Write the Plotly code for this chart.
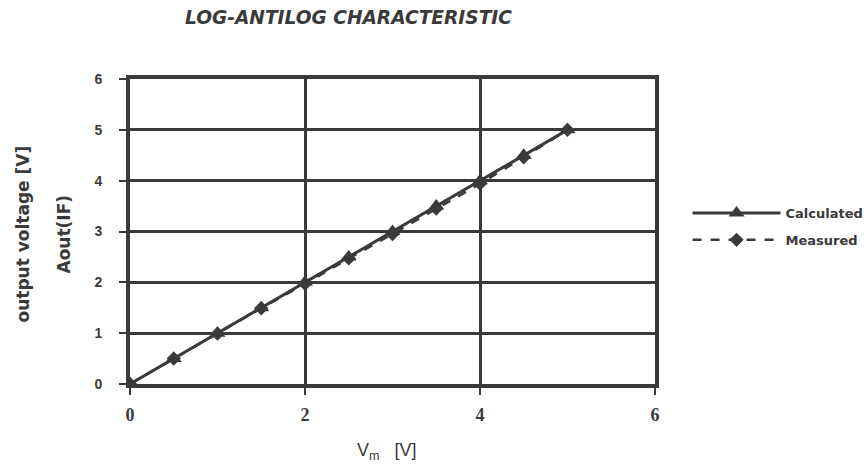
import plotly.graph_objects as go

# Input voltage V_m [V]
vin = [0, 0.5, 1.0, 1.5, 2.0, 2.5, 3.0, 3.5, 4.0, 4.5, 5.0]
# Output voltage Aout(IF) [V]
calculated = [0, 0.5, 1.0, 1.5, 2.0, 2.5, 3.0, 3.5, 4.0, 4.5, 5.0]
measured = [0, 0.5, 0.99, 1.49, 1.97, 2.47, 2.95, 3.45, 3.94, 4.46, 5.0]

x_ticks = [0, 2, 4, 6]
y_ticks = [0, 1, 2, 3, 4, 5, 6]

ink = "#3a3a3a"
sans_bold = "DejaVu Sans"

fig = go.Figure()
fig.add_trace(go.Scatter(
    x=vin, y=calculated, name="Calculated", mode="lines+markers",
    legendgroup="calc",
    line=dict(color=ink, width=3),
    marker=dict(symbol="triangle-up", size=14, color=ink),
))
fig.add_trace(go.Scatter(
    x=vin, y=measured, name="Measured", mode="lines+markers",
    legendgroup="meas",
    line=dict(color=ink, width=2.5, dash="dash"),
    marker=dict(symbol="diamond", size=11, color=ink),
))

axis_common = dict(
    showline=True, mirror=True, linewidth=4, linecolor=ink,
    showgrid=True, gridwidth=3, gridcolor=ink,
    zeroline=False, ticks="outside", ticklen=7, tickwidth=2, tickcolor=ink,
)

fig.update_layout(
    width=867, height=468,
    margin=dict(l=130, r=212, t=79, b=84, autoexpand=False),
    paper_bgcolor="white", plot_bgcolor="white",
    showlegend=True,
    legend=dict(
        x=1.062, y=0.61, xanchor="left", yanchor="top",
        font=dict(family=sans_bold, size=13, color=ink, weight="bold"),
        itemwidth=88, traceorder="grouped", tracegroupgap=7,
        bgcolor="rgba(0,0,0,0)",
    ),
    xaxis=dict(
        range=[0, 6], tickvals=x_ticks, ticktext=[str(v) for v in x_ticks],
        tickfont=dict(family="Liberation Serif", size=18, color=ink, weight="bold"),
        ticklabelstandoff=4,
        **axis_common,
    ),
    yaxis=dict(
        range=[0, 6], tickvals=y_ticks, ticktext=[str(v) for v in y_ticks],
        tickfont=dict(family="Arial", size=14, color=ink, weight="bold"),
        ticklabelstandoff=14,
        **axis_common,
    ),
    annotations=[
        dict(text="<b><i>LOG-ANTILOG CHARACTERISTIC</i></b>", xref="paper", yref="paper",
             x=0.417, y=1.0, xanchor="center", yanchor="middle", yshift=62,
             showarrow=False,
             font=dict(family=sans_bold, size=18.6, color=ink)),
        dict(text="V<sub>m</sub>&nbsp;&nbsp;&nbsp;[V]", xref="paper", yref="paper",
             x=0.49, y=0, xanchor="center", yanchor="middle", yshift=-67,
             showarrow=False,
             font=dict(family="Arial", size=18, color=ink)),
        dict(text="<b>output voltage [V]</b>", xref="paper", yref="paper",
             x=0, xshift=-108, y=0.5, yshift=-3, xanchor="center", yanchor="middle",
             textangle=-90, showarrow=False,
             font=dict(family=sans_bold, size=17, color=ink)),
        dict(text="<b>Aout(IF)</b>", xref="paper", yref="paper",
             x=0, xshift=-67, y=0.5, yshift=-3, xanchor="center", yanchor="middle",
             textangle=-90, showarrow=False,
             font=dict(family=sans_bold, size=17, color=ink)),
    ],
)

fig.write_html("out.html")
